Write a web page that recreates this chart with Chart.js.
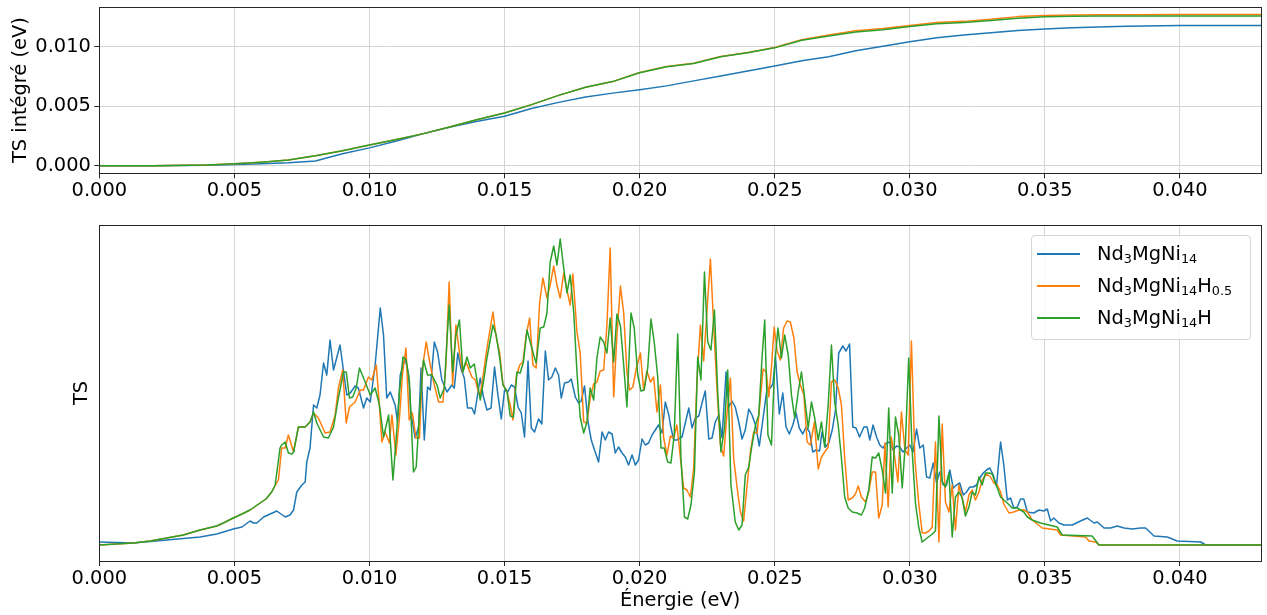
<!DOCTYPE html>
<html>
<head>
<meta charset="utf-8">
<script src="https://cdn.jsdelivr.net/npm/chart.js@4.4.1/dist/chart.umd.min.js"></script>
<style>
  html, body { margin: 0; padding: 0; background: #fff; }
  body { width: 1267px; height: 615px; position: relative; overflow: hidden; font-family: "DejaVu Sans", sans-serif; }
  #top { position: absolute; left: 0; top: 0; width: 1267px; height: 200px; }
  #bottom { position: absolute; left: 0; top: 210px; width: 1267px; height: 405px; }
  .legend { position: absolute; left: 1031px; top: 235px; width: 218px; height: 101px; border: 1px solid #d6d6d6; border-radius: 4px; background: rgba(255,255,255,0.8); padding-top: 2px; }
  .row { display: flex; align-items: center; height: 32px; }
  .swatch { margin-left: 5px; width: 43px; height: 2px; }
  .label { margin-left: 17px; font-size: 19.4px; line-height: 1; color: #000; white-space: nowrap; }
  .label sub { font-size: 66%; vertical-align: baseline; position: relative; top: 0.22em; line-height: 0; }
</style>
</head>
<body>
<div id="top"><canvas id="cTop"></canvas></div>
<div id="bottom"><canvas id="cBottom"></canvas></div>
<div class="legend" id="legend"></div>
<script>
// energies in meV, TS in arbitrary units (bottom), integrated TS in eV (top)
const seriesLabels = ['Nd<sub>3</sub>MgNi<sub>14</sub>', 'Nd<sub>3</sub>MgNi<sub>14</sub>H<sub>0.5</sub>', 'Nd<sub>3</sub>MgNi<sub>14</sub>H'];
const seriesColors = ['#1f77b4', '#ff7f0e', '#2ca02c'];
const xTicks = [0, 0.005, 0.01, 0.015, 0.02, 0.025, 0.03, 0.035, 0.04];
const yTicksTop = [0, 0.005, 0.01];

const intE = [0, 2, 4, 5, 6, 7, 8, 9, 10, 11, 12, 13, 14, 15, 16, 17, 18, 19, 20, 21, 22, 23, 24, 25, 26, 27, 28, 29, 30, 31, 32, 33, 34, 35, 36, 37, 38, 40, 43];
const intBlue = [0, 0, 0.00004, 0.0001, 0.00017, 0.00025, 0.0004, 0.001, 0.0015, 0.00208, 0.0027, 0.00325, 0.00375, 0.00417, 0.00481, 0.00533, 0.00578, 0.00611, 0.00639, 0.00672, 0.00714, 0.00756, 0.00797, 0.00839, 0.00883, 0.00917, 0.00967, 0.01006, 0.01044, 0.01078, 0.011, 0.0112, 0.01139, 0.0115, 0.01161, 0.01167, 0.01174, 0.01181, 0.01181];
const intOrange = [0, 0, 0.00006, 0.00017, 0.0003, 0.00047, 0.00083, 0.00125, 0.00175, 0.0022, 0.0027, 0.00328, 0.00389, 0.00444, 0.00514, 0.00592, 0.00661, 0.00708, 0.00785, 0.00835, 0.00863, 0.0092, 0.00953, 0.00995, 0.0106, 0.011, 0.01136, 0.01155, 0.0118, 0.01205, 0.01215, 0.01232, 0.01255, 0.01265, 0.01269, 0.0127, 0.01271, 0.01272, 0.01272];
const intGreen = [0, 0, 0.00006, 0.00017, 0.0003, 0.00047, 0.00083, 0.00125, 0.00175, 0.0022, 0.0027, 0.00328, 0.00389, 0.00444, 0.00514, 0.00592, 0.00661, 0.00708, 0.00783, 0.00833, 0.00861, 0.00917, 0.0095, 0.00992, 0.01056, 0.01092, 0.01125, 0.01145, 0.01172, 0.01195, 0.01206, 0.01222, 0.01242, 0.01253, 0.01258, 0.0126, 0.0126, 0.01261, 0.01261];

const tsBlue = [[0,3],[1.26,2],[2.50,5],[3.73,8],[4.35,11],[4.96,16],[5.28,18],[5.58,24],[5.71,22],[5.83,22],[6.08,28],[6.57,34],[6.88,28],[7.06,30],[7.19,35],[7.31,53],[7.50,60],[7.62,63],[7.68,83],[7.80,97],[7.93,140],[8.05,137],[8.17,150],[8.30,182],[8.42,170],[8.54,205],[8.67,175],[8.91,200],[9.16,150],[9.29,152],[9.47,159],[9.59,157],[9.78,137],[9.90,147],[10.03,143],[10.21,180],[10.40,237],[10.52,210],[10.64,147],[10.77,153],[10.95,140],[11.04,123],[11.14,170],[11.32,187],[11.45,170],[11.53,133],[11.69,107],[11.82,118],[11.91,177],[12.03,105],[12.15,158],[12.25,155],[12.40,203],[12.52,193],[12.68,165],[12.87,153],[13.05,160],[13.14,157],[13.27,192],[13.40,175],[13.51,167],[13.63,137],[13.79,137],[13.89,131],[14.10,167],[14.22,148],[14.35,135],[14.50,137],[14.63,178],[14.74,153],[14.88,126],[15.00,155],[15.12,153],[15.25,160],[15.37,158],[15.50,138],[15.62,132],[15.74,108],[15.87,184],[15.99,117],[16.11,113],[16.26,126],[16.38,121],[16.51,194],[16.63,165],[16.75,168],[16.88,177],[17.00,170],[17.10,147],[17.22,162],[17.37,163],[17.47,166],[17.62,148],[17.74,142],[17.84,144],[17.96,159],[18.09,123],[18.21,105],[18.33,95],[18.48,83],[18.61,113],[18.73,105],[18.85,113],[18.98,111],[19.10,92],[19.22,98],[19.35,92],[19.47,88],[19.59,80],[19.72,90],[19.84,80],[19.96,85],[20.09,106],[20.21,100],[20.33,102],[20.46,110],[20.70,120],[20.83,112],[20.95,143],[21.08,130],[21.14,120],[21.26,105],[21.38,105],[21.57,108],[21.69,122],[21.82,137],[21.94,117],[22.06,127],[22.19,129],[22.31,142],[22.43,154],[22.56,106],[22.68,107],[22.80,123],[22.93,130],[23.05,107],[23.20,173],[23.30,138],[23.42,144],[23.54,138],[23.67,123],[23.79,106],[23.91,115],[24.04,136],[24.16,130],[24.29,120],[24.43,99],[24.57,127],[24.72,157],[24.84,157],[24.93,161],[25.03,188],[25.17,131],[25.30,152],[25.42,118],[25.54,111],[25.67,120],[25.79,132],[25.91,117],[26.04,111],[26.16,118],[26.29,113],[26.41,93],[26.53,95],[26.66,94],[26.75,113],[26.88,98],[27.00,102],[27.13,115],[27.25,135],[27.37,192],[27.52,199],[27.64,194],[27.77,201],[27.89,118],[28.01,117],[28.14,108],[28.30,118],[28.42,118],[28.52,105],[28.64,120],[28.77,108],[28.89,100],[29.01,97],[29.14,102],[29.26,103],[29.38,95],[29.51,99],[29.63,98],[29.75,93],[29.88,97],[30.00,100],[30.12,93],[30.25,116],[30.37,97],[30.50,100],[30.62,68],[30.74,67],[30.87,82],[30.99,62],[31.11,73],[31.24,60],[31.36,60],[31.48,75],[31.61,57],[31.73,60],[31.85,62],[31.98,50],[32.10,53],[32.22,58],[32.35,58],[32.47,60],[32.59,67],[32.72,72],[32.84,75],[32.96,77],[33.09,70],[33.21,59],[33.36,103],[33.48,80],[33.61,45],[33.73,47],[33.85,37],[33.98,38],[34.10,46],[34.22,46],[34.35,33],[34.59,32],[34.78,35],[34.96,34],[35.09,36],[35.21,24],[35.33,27],[35.52,22],[35.70,20],[36.01,20],[36.32,24],[36.57,27],[36.82,22],[36.94,23],[37.19,17],[37.43,17],[37.68,19],[37.93,17],[38.24,16],[38.54,17],[38.73,17],[39.04,9],[39.53,8],[39.90,4],[40.77,3],[40.95,0],[43.00,0]];

const tsOrange = [[0,0],[0.62,1],[1.26,2],[1.88,4],[2.50,7],[3.11,10],[3.73,15],[4.35,19],[4.59,22],[4.96,27],[5.28,31],[5.58,35],[5.90,41],[6.17,46],[6.38,53],[6.63,65],[6.75,97],[6.88,97],[7.00,110],[7.19,93],[7.37,118],[7.62,118],[7.80,123],[7.93,132],[8.11,127],[8.36,112],[8.54,113],[8.73,130],[8.85,157],[9.01,175],[9.14,122],[9.26,138],[9.47,143],[9.66,155],[9.78,155],[9.96,168],[10.09,165],[10.25,180],[10.34,150],[10.46,103],[10.58,113],[10.74,102],[10.83,130],[10.98,90],[11.11,127],[11.22,170],[11.35,197],[11.47,125],[11.59,132],[11.72,107],[11.85,107],[11.96,177],[12.10,203],[12.25,180],[12.40,160],[12.56,143],[12.72,143],[12.83,180],[12.95,263],[13.08,160],[13.20,220],[13.33,193],[13.45,173],[13.57,183],[13.79,168],[13.92,165],[14.04,152],[14.10,150],[14.22,172],[14.35,197],[14.57,233],[14.69,208],[14.82,192],[14.94,161],[15.09,153],[15.21,140],[15.31,125],[15.43,168],[15.56,180],[15.68,183],[15.80,210],[15.93,227],[16.05,180],[16.17,177],[16.30,243],[16.42,267],[16.57,247],[16.69,260],[16.82,279],[16.94,260],[17.06,247],[17.19,272],[17.31,255],[17.43,240],[17.53,271],[17.68,213],[17.80,192],[17.93,123],[18.05,122],[18.17,147],[18.30,161],[18.42,163],[18.54,174],[18.67,175],[18.79,220],[18.91,297],[19.04,148],[19.16,210],[19.29,259],[19.41,232],[19.53,173],[19.63,155],[19.75,158],[19.88,177],[20.03,192],[20.15,155],[20.27,174],[20.40,163],[20.52,168],[20.64,133],[20.77,160],[20.89,107],[21.01,90],[21.14,109],[21.26,107],[21.38,120],[21.51,87],[21.63,57],[21.75,55],[21.88,48],[22.00,77],[22.12,163],[22.25,220],[22.37,184],[22.50,237],[22.62,286],[22.74,220],[22.87,153],[22.99,100],[23.11,89],[23.24,133],[23.36,167],[23.48,87],[23.61,57],[23.73,33],[23.85,24],[23.98,60],[24.10,93],[24.22,113],[24.35,112],[24.47,147],[24.57,176],[24.69,173],[24.78,148],[24.88,178],[24.98,218],[25.09,194],[25.21,185],[25.33,217],[25.46,224],[25.58,223],[25.71,207],[25.83,173],[25.95,160],[26.08,150],[26.20,103],[26.32,100],[26.47,123],[26.61,76],[26.73,88],[26.85,93],[26.98,98],[27.10,163],[27.22,165],[27.35,157],[27.47,140],[27.59,87],[27.72,45],[27.87,47],[27.99,51],[28.09,59],[28.21,48],[28.36,43],[28.48,53],[28.61,73],[28.73,73],[28.85,27],[28.98,40],[29.08,102],[29.20,38],[29.31,108],[29.43,90],[29.56,63],[29.69,133],[29.82,95],[29.94,90],[30.06,204],[30.19,85],[30.33,42],[30.46,12],[30.58,12],[30.71,14],[30.83,18],[30.95,103],[31.08,3],[31.20,121],[31.32,43],[31.45,33],[31.57,60],[31.69,15],[31.82,60],[31.94,47],[32.06,33],[32.19,50],[32.31,55],[32.43,45],[32.56,53],[32.68,65],[32.84,71],[32.99,68],[33.11,62],[33.24,60],[33.36,53],[33.48,41],[33.67,32],[33.85,33],[34.04,35],[34.22,35],[34.35,33],[34.53,25],[34.90,17],[35.46,15],[35.58,10],[36.51,8],[36.63,4],[36.88,3],[37.00,0],[43.00,0]];

const tsGreen = [[0,0],[0.62,1],[1.26,2],[1.88,4],[2.50,7],[3.11,10],[3.73,15],[4.35,19],[4.59,22],[4.96,27],[5.28,31],[5.58,35],[5.90,41],[6.17,46],[6.38,53],[6.51,60],[6.69,97],[6.75,100],[6.88,103],[7.00,92],[7.13,91],[7.19,93],[7.37,118],[7.62,118],[7.80,123],[7.93,133],[8.05,122],[8.30,108],[8.48,107],[8.67,118],[8.85,147],[9.04,173],[9.14,173],[9.26,147],[9.38,148],[9.51,157],[9.63,177],[9.78,167],[10.03,150],[10.21,157],[10.37,140],[10.52,108],[10.71,130],[10.87,65],[10.99,107],[11.11,153],[11.24,188],[11.36,185],[11.48,163],[11.63,73],[11.73,78],[11.85,133],[12.00,185],[12.15,170],[12.31,170],[12.50,160],[12.62,147],[12.77,157],[12.87,205],[12.95,240],[13.08,173],[13.20,210],[13.33,225],[13.46,173],[13.61,188],[13.73,177],[13.88,181],[14.10,145],[14.22,163],[14.35,187],[14.57,220],[14.69,210],[14.82,187],[14.94,160],[15.09,154],[15.21,129],[15.33,128],[15.46,173],[15.58,172],[15.70,183],[15.83,215],[15.95,203],[16.08,190],[16.17,182],[16.32,217],[16.45,218],[16.57,232],[16.69,283],[16.82,299],[16.94,280],[17.06,306],[17.19,277],[17.31,252],[17.43,270],[17.56,233],[17.68,173],[17.80,128],[17.93,112],[18.05,123],[18.17,157],[18.30,145],[18.42,187],[18.54,208],[18.67,203],[18.79,192],[18.91,227],[19.04,183],[19.16,231],[19.29,219],[19.41,180],[19.53,138],[19.68,232],[19.80,217],[19.93,170],[20.05,154],[20.17,155],[20.30,177],[20.42,226],[20.54,203],[20.67,168],[20.79,97],[20.91,97],[21.04,83],[21.16,82],[21.28,110],[21.41,211],[21.53,87],[21.66,28],[21.78,26],[21.90,40],[22.03,73],[22.15,188],[22.27,165],[22.40,273],[22.52,203],[22.64,195],[22.77,235],[22.89,153],[23.01,93],[23.14,117],[23.26,175],[23.38,60],[23.54,23],[23.67,15],[23.79,20],[23.91,70],[24.04,78],[24.16,100],[24.29,120],[24.41,130],[24.53,187],[24.63,225],[24.75,110],[24.88,100],[25.00,180],[25.12,217],[25.25,187],[25.37,210],[25.50,190],[25.62,150],[25.74,127],[25.87,153],[25.99,173],[26.11,147],[26.24,117],[26.36,143],[26.48,127],[26.61,105],[26.73,123],[26.85,98],[26.98,140],[27.10,200],[27.22,143],[27.35,120],[27.47,87],[27.59,48],[27.72,37],[27.87,33],[28.05,32],[28.21,30],[28.33,37],[28.48,55],[28.61,88],[28.73,87],[28.85,92],[28.98,75],[29.10,52],[29.22,137],[29.35,52],[29.47,128],[29.59,110],[29.72,57],[29.84,103],[29.96,187],[30.09,93],[30.21,42],[30.33,18],[30.46,3],[30.64,7],[30.79,10],[30.95,14],[31.08,129],[31.20,63],[31.32,58],[31.45,72],[31.57,8],[31.69,48],[31.82,53],[31.94,47],[32.06,29],[32.19,38],[32.31,53],[32.43,50],[32.56,68],[32.68,60],[32.80,72],[32.93,72],[33.05,71],[33.17,62],[33.36,48],[33.48,45],[33.61,42],[33.79,37],[33.98,37],[34.10,35],[34.22,33],[34.35,28],[34.53,25],[34.84,22],[35.46,18],[35.64,10],[36.75,9],[37.00,0],[43.00,0]];

const GRID = '#d4d4d4';
const AXIS = '#262626';
Chart.defaults.font.family = '"DejaVu Sans", sans-serif';
Chart.defaults.font.size = 19.4;
Chart.defaults.color = '#000';

// matplotlib-like box around the axes
const frame = {
  id: 'frame',
  afterDatasetsDraw(chart) {
    const { ctx, chartArea: a } = chart;
    ctx.save();
    ctx.strokeStyle = AXIS;
    ctx.lineWidth = 1;
    ctx.strokeRect(Math.round(a.left) + 0.5, Math.round(a.top) + 0.5, Math.round(a.right - a.left), Math.round(a.bottom - a.top));
    ctx.restore();
  }
};

const toPts = arr => arr.map(([e, v]) => ({ x: e / 1000, y: v }));
const intPts = vals => intE.map((e, i) => ({ x: e / 1000, y: vals[i] }));

function line(data, i) {
  return {
    data,
    borderColor: seriesColors[i],
    backgroundColor: seriesColors[i],
    borderWidth: 1.5,
    pointRadius: 0,
    tension: 0,
    fill: false,
    borderJoinStyle: 'round',
    order: 3 - i
  };
}

function fixY(s) {
  s.width = 99.3;
  s.paddingTop = 0;
  s.paddingBottom = 0;
}

function xAxis(height, titleOpts) {
  return {
    type: 'linear',
    min: 0,
    max: 0.043,
    afterBuildTicks: s => { s.ticks = xTicks.map(value => ({ value })); },
    afterFit: s => { s.height = height; },
    ticks: { autoSkip: false, maxRotation: 0, padding: 1, callback: v => v.toFixed(3) },
    grid: { color: GRID, lineWidth: 1, tickColor: AXIS, tickLength: 5, drawTicks: true },
    border: { display: false },
    title: titleOpts || { display: false }
  };
}

const base = {
  responsive: true,
  maintainAspectRatio: false,
  animation: false,
  events: [],
  plugins: { legend: { display: false }, tooltip: { enabled: false } }
};

new Chart(document.getElementById('cTop'), {
  type: 'line',
  data: { datasets: [intBlue, intOrange, intGreen].map((v, i) => line(intPts(v), i)) },
  plugins: [frame],
  options: {
    ...base,
    layout: { padding: { top: 7, right: 6, left: 0, bottom: 0 } },
    scales: {
      x: xAxis(26.7),
      y: {
        min: -0.00064,
        max: 0.01336,
        afterBuildTicks: s => { s.ticks = yTicksTop.map(value => ({ value })); },
        afterFit: fixY,
        ticks: { padding: 3.5, callback: v => v.toFixed(3) },
        grid: { color: GRID, lineWidth: 1, tickColor: AXIS, tickLength: 5 },
        border: { display: false },
        title: { display: true, text: 'TS intégré (eV)', padding: { top: 9.6, bottom: 0 } }
      }
    }
  }
});

new Chart(document.getElementById('cBottom'), {
  type: 'line',
  data: { datasets: [tsBlue, tsOrange, tsGreen].map((v, i) => line(toPts(v), i)) },
  plugins: [frame],
  options: {
    ...base,
    layout: { padding: { top: 15, right: 6, left: 0, bottom: 0 } },
    scales: {
      x: xAxis(54, { display: true, text: 'Énergie (eV)', padding: { top: 0, bottom: 2.6 } }),
      y: {
        min: -16,
        max: 320,
        afterFit: fixY,
        ticks: { display: false },
        grid: { display: false },
        border: { display: false },
        title: { display: true, text: 'TS', padding: { top: 70.6, bottom: 0 } }
      }
    }
  }
});

const legend = document.getElementById('legend');
seriesLabels.forEach((lab, i) => {
  const row = document.createElement('div');
  row.className = 'row';
  row.innerHTML = '<span class="swatch" style="background:' + seriesColors[i] + '"></span><span class="label">' + lab + '</span>';
  legend.appendChild(row);
});
</script>
</body>
</html>
